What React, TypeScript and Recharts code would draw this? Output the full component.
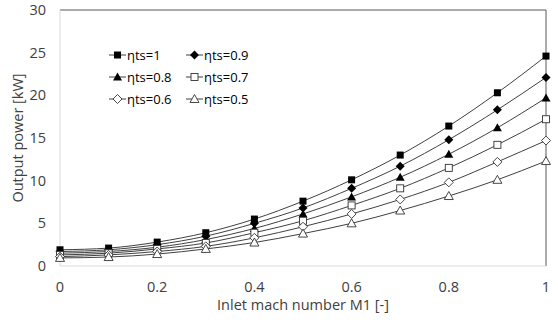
import React from 'react';
import { LineChart, Line, XAxis, YAxis, ReferenceLine, Label } from 'recharts';

const machNumbers = [0, 0.1, 0.2, 0.3, 0.4, 0.5, 0.6, 0.7, 0.8, 0.9, 1];

const eta100 = [1.9, 2.1, 2.8, 3.9, 5.5, 7.6, 10.1, 13.0, 16.4, 20.3, 24.6];
const eta090 = [1.7, 1.9, 2.5, 3.5, 5.0, 6.8, 9.1, 11.7, 14.8, 18.3, 22.1];
const eta080 = [1.5, 1.7, 2.2, 3.1, 4.4, 6.1, 8.1, 10.4, 13.1, 16.2, 19.7];
const eta070 = [1.3, 1.5, 2.0, 2.7, 3.9, 5.3, 7.1, 9.1, 11.5, 14.2, 17.2];
const eta060 = [1.1, 1.3, 1.7, 2.3, 3.3, 4.6, 6.1, 7.8, 9.8, 12.2, 14.7];
const eta050 = [0.95, 1.05, 1.4, 2.0, 2.75, 3.8, 5.0, 6.5, 8.2, 10.1, 12.3];

const xTicks = [0, 0.2, 0.4, 0.6, 0.8, 1];
const yTicks = [0, 5, 10, 15, 20, 25, 30];

const FONT = '"Open Sans", sans-serif';
const INK = '#404040';
const LINE = '#404040';

type Shape = 'square' | 'diamond' | 'triangle';

interface SeriesDef {
  key: string;
  name: string;
  values: number[];
  shape: Shape;
  filled: boolean;
}

const SERIES: SeriesDef[] = [
  { key: 's100', name: 'ηts=1', values: eta100, shape: 'square', filled: true },
  { key: 's090', name: 'ηts=0.9', values: eta090, shape: 'diamond', filled: true },
  { key: 's080', name: 'ηts=0.8', values: eta080, shape: 'triangle', filled: true },
  { key: 's070', name: 'ηts=0.7', values: eta070, shape: 'square', filled: false },
  { key: 's060', name: 'ηts=0.6', values: eta060, shape: 'diamond', filled: false },
  { key: 's050', name: 'ηts=0.5', values: eta050, shape: 'triangle', filled: false },
];

const data = machNumbers.map((m, i) => {
  const row: Record<string, number> = { m };
  SERIES.forEach((s) => {
    row[s.key] = s.values[i];
  });
  return row;
});

function Marker({ cx, cy, shape, filled }: { cx: number; cy: number; shape: Shape; filled: boolean }) {
  const fill = filled ? '#000' : '#fff';
  const stroke = filled ? '#000' : '#333';
  if (shape === 'square') {
    const h = 3.5;
    return <rect x={cx - h} y={cy - h} width={h * 2} height={h * 2} fill={fill} stroke={stroke} strokeWidth={filled ? 0 : 0.9} />;
  }
  if (shape === 'diamond') {
    const h = 4.5;
    return (
      <polygon
        points={`${cx},${cy - h} ${cx + h},${cy} ${cx},${cy + h} ${cx - h},${cy}`}
        fill={fill}
        stroke={stroke}
        strokeWidth={filled ? 0 : 0.9}
      />
    );
  }
  const w = 4.5;
  return (
    <polygon
      points={`${cx},${cy - 4.5} ${cx + w},${cy + 3.5} ${cx - w},${cy + 3.5}`}
      fill={fill}
      stroke={stroke}
      strokeWidth={filled ? 0 : 0.9}
    />
  );
}

function makeDot(s: SeriesDef) {
  return (props: any) => {
    const { cx, cy, index } = props;
    if (cx == null || cy == null) return <g key={`${s.key}-${index}`} />;
    return (
      <g key={`${s.key}-${index}`}>
        <Marker cx={cx} cy={cy} shape={s.shape} filled={s.filled} />
      </g>
    );
  };
}

// legend sits inside the plot area, like the Excel original
function LegendBox() {
  return (
    <div
      style={{
        position: 'absolute',
        left: 109,
        top: 45,
        display: 'grid',
        gridTemplateColumns: '77px 80px',
        rowGap: '2px',
        fontFamily: FONT,
        fontSize: '13px',
        color: '#000',
        lineHeight: '20px',
      }}
    >
      {SERIES.map((s) => (
        <div key={s.key} style={{ display: 'flex', alignItems: 'center', height: '20px', whiteSpace: 'nowrap' }}>
          <svg width={17} height={12} style={{ marginRight: '1px', flexShrink: 0 }}>
            <line x1={0} y1={6} x2={17} y2={6} stroke={LINE} strokeWidth={1} />
            <Marker cx={8.5} cy={6} shape={s.shape} filled={s.filled} />
          </svg>
          <span>{s.name}</span>
        </div>
      ))}
    </div>
  );
}

export default function App() {
  return (
    <div style={{ position: 'fixed', left: 0, top: 0, width: 558, height: 320, background: '#fff' }}>
      <LineChart width={558} height={320} data={data} margin={{ top: 10, right: 12, left: 0, bottom: 0 }}>
        <XAxis
          dataKey="m"
          type="number"
          domain={[0, 1]}
          ticks={xTicks}
          tickLine={false}
          tickSize={0}
          tickMargin={16}
          height={54}
          axisLine={{ stroke: '#d9d9d9' }}
          tick={{ fill: INK, fontSize: 14.5, fontFamily: FONT }}
        >
          <Label
            value="Inlet mach number M1 [-]"
            position="insideBottom"
            offset={10}
            style={{ fill: INK, fontSize: 14.5, fontFamily: FONT }}
          />
        </XAxis>
        <YAxis
          type="number"
          domain={[0, 30]}
          ticks={yTicks}
          tickLine={false}
          tickSize={0}
          tickMargin={14}
          width={60}
          axisLine={{ stroke: '#d9d9d9' }}
          tick={{ fill: INK, fontSize: 14.5, fontFamily: FONT }}
        >
          <Label
            value="Output power [kW]"
            angle={-90}
            position="insideLeft"
            offset={18}
            style={{ fill: INK, fontSize: 14.5, fontFamily: FONT, textAnchor: 'middle' }}
          />
        </YAxis>
        <ReferenceLine y={30} stroke="#595959" strokeWidth={1} />
        <ReferenceLine x={1} stroke="#595959" strokeWidth={1} />
        {SERIES.map((s) => (
          <Line
            key={s.key}
            dataKey={s.key}
            name={s.name}
            type="monotone"
            stroke={LINE}
            strokeWidth={1}
            dot={makeDot(s)}
            activeDot={false}
            isAnimationActive={false}
          />
        ))}
      </LineChart>
      <LegendBox />
    </div>
  );
}
